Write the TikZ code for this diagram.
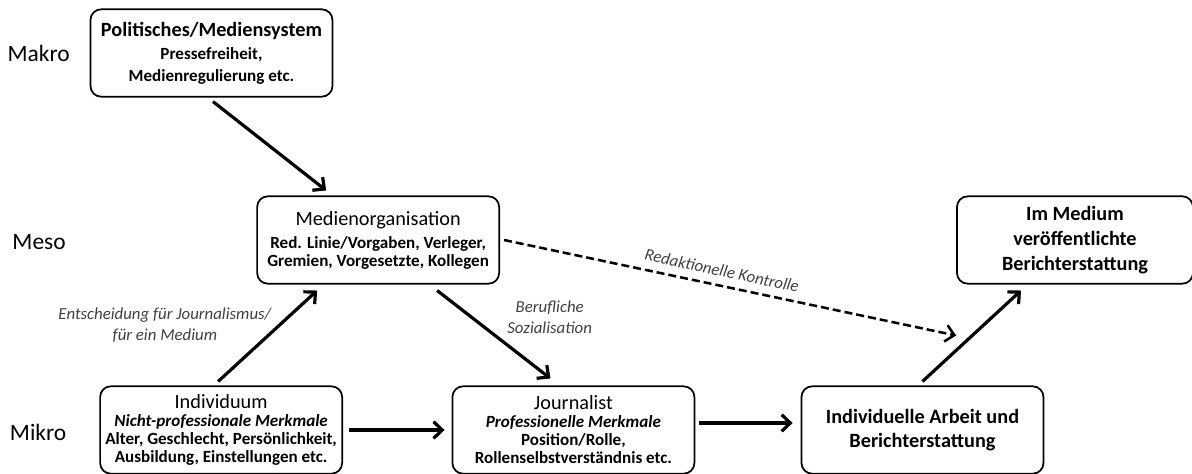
\documentclass[tikz,border=0pt]{standalone}
\usepackage{fontspec}
\setmainfont{Carlito}
\usetikzlibrary{positioning, arrows.meta}
\newcommand{\titel}{\fontsize{15.2}{18.5}\selectfont}
\newcommand{\merkmal}{\bfseries\fontsize{12.8}{13.5}\selectfont}
\tikzset{
  ebenen/.style={
	line width=2.4pt, % thick connectors
	>={Straight Barb[length=6.5pt, width=12.5pt]}, % open arrow heads
	node distance=142.5pt, % distance between two levels
	every edge/.style={draw, ->}, % every edge is an arrow
  },
  kasten/.style={draw, line width=1.3pt, rounded corners=8pt, minimum width=181.5pt, minimum height=65.5pt, align=center, inner xsep=1pt, inner ysep=2pt},
  ebene/.style={font=\fontsize{17.6}{21}\selectfont}, % Makro, Meso, Mikro
  beschriftung/.style={font=\itshape\fontsize{12.6}{16}\selectfont, text=black!75, align=center, inner sep=0pt},
}
\begin{document}
\begin{tikzpicture}[ebenen]
\useasboundingbox (-158.6pt,39.75pt) rectangle (735.4pt,-315.75pt);

\node[kasten, font=\bfseries\fontsize{12.8}{16.5}\selectfont] (P) at (0,0) {{\titel Politisches/Mediensystem}\\[0.75pt]Pressefreiheit,\\Medienregulierung etc.};
\node[kasten, font=\merkmal, below of=P, xshift=125pt, yshift=2.25pt] (M) {{\mdseries\titel Medienorganisation}\\[3.75pt]Red. Linie/Vorgaben, Verleger,\\Gremien, Vorgesetzte, Kollegen};
\node[kasten, font=\merkmal, below of=M, xshift=-117.75pt] (I) {{\mdseries\titel Individuum}\\\textit{Nicht-professionale Merkmale}\\Alter, Geschlecht, Persönlichkeit,\\Ausbildung, Einstellungen etc.};
\node[kasten, font=\merkmal, right of=I, xshift=121.7pt] (J) {{\mdseries\titel Journalist}\\\textit{Professionelle Merkmale}\\Position/Rolle,\\Rollenselbstverständnis etc.};
\node[kasten, font=\bfseries\titel, right of=J, xshift=119.3pt] (A) {Individuelle Arbeit und\\Berichterstattung};
\node[kasten, font=\bfseries\titel, minimum width=177pt, above of=A, xshift=114.4pt] (V) {Im Medium\\veröffentlichte\\Berichterstattung};

\node[ebene, left of=P, xshift=12.9pt] (makro) {Makro};
\node[ebene, left of=M, xshift=-111.75pt, yshift=-1.5pt] (meso) {Meso};
\node[ebene, left of=I, xshift=5.25pt, yshift=-1.5pt] (mikro) {Mikro};

\coordinate[below=38.25pt of V.south west] (kend);

\draw   ([xshift=1.1pt,yshift=-3pt]P.south) edge ([xshift=-39pt,yshift=3.75pt]M.north)
        ([xshift=-2.25pt,yshift=3pt]I.north) edge node[beschriftung, left=5pt, pos=0.62] {Entscheidung für Journalismus/\\für ein Medium} ([xshift=-45.75pt,yshift=-4.5pt]M.south)
        ([xshift=44.25pt,yshift=-4.5pt]M.south) edge node[beschriftung, right=26pt, pos=0.3] {Berufliche\\Sozialisation} ([xshift=-17.25pt,yshift=5.25pt]J.north)
        ([xshift=4.5pt]I.east) edge ([xshift=-5.25pt]J.west)
        ([xshift=3pt,yshift=5.25pt]J.east) edge ([xshift=-6pt,yshift=5.25pt]A.west)
        ([yshift=3pt]A.north) edge ([xshift=-40.5pt,yshift=-4.5pt]V.south)
        ([xshift=3pt]M.east) edge[dashed, dash pattern=on 6pt off 3pt, line width=1.9pt] node[beschriftung, sloped, above=6pt, pos=0.475] {Redaktionelle Kontrolle} (kend)
;
\end{tikzpicture}
\end{document}
